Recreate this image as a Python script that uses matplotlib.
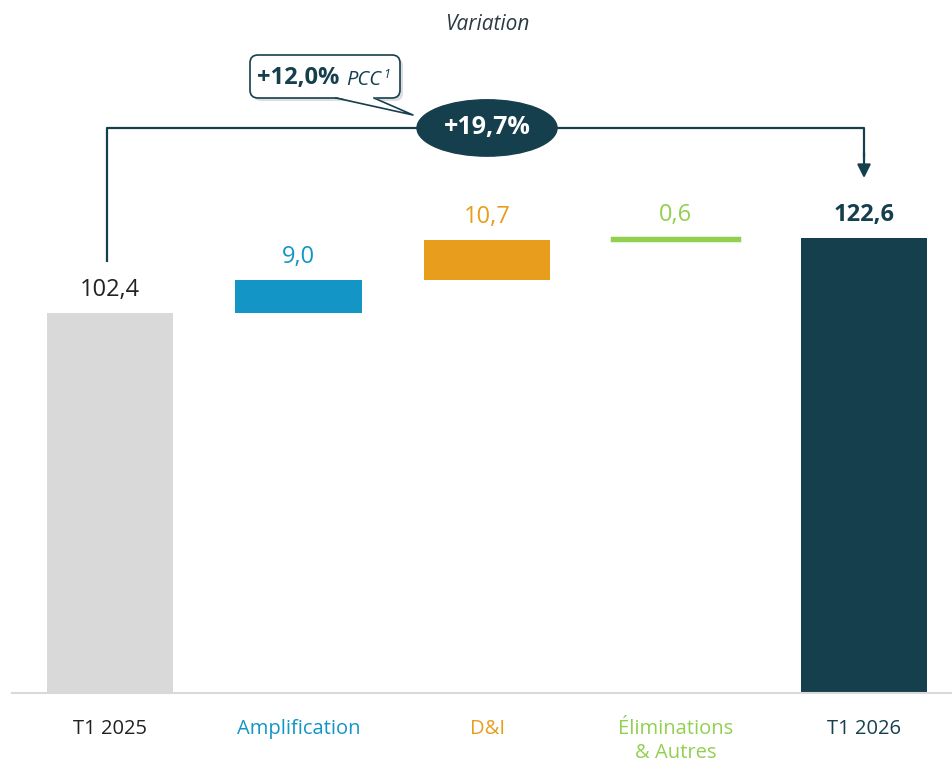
import matplotlib
matplotlib.use('Agg')
import matplotlib.pyplot as plt
from matplotlib.patches import Ellipse, FancyBboxPatch, Polygon
from matplotlib.transforms import Affine2D

plt.rcParams['font.family'] = ['Open Sans', 'DejaVu Sans']

# data
categories = ['T1 2025', 'Amplification', 'D&I', 'Éliminations\n& Autres', 'T1 2026']
start_value = 102.4
changes = [9.0, 10.7, 0.6]
end_value = 122.6
value_labels = ['102,4', '9,0', '10,7', '0,6', '122,6']
total_growth = '+19,7%'
pcc_growth = '+12,0%'

colors = ['#D9D9D9', '#1395C6', '#E89E1C', '#92D050', '#163F4E']
text_colors = ['#222222', '#1395C6', '#E89E1C', '#92D050', '#163F4E']
dark = '#163F4E'

W, H = 953, 763
fig = plt.figure(figsize=(W / 100, H / 100), dpi=100)
ax = fig.add_axes([12 / W, 70 / H, 941 / W, 693 / H])
ax.set_xlim(-0.52, 4.472)
ax.set_ylim(0, 693 / 3.71)

# waterfall bottoms / heights
bottoms = [0]
heights = [start_value]
run = start_value
for c in changes:
    bottoms.append(run)
    heights.append(c)
    run += c
bottoms.append(0)
heights.append(end_value)

xs = list(range(len(categories)))
bars = ax.bar(xs, heights, bottom=bottoms, width=0.67, color=colors, zorder=2)
# the tiny step gets a thicker outline so it stays visible
bars[3].set_edgecolor(colors[3])
bars[3].set_linewidth(2.5)

for i, b in enumerate(bars):
    top = bottoms[i] + heights[i]
    ax.annotate(value_labels[i], (xs[i], top), xytext=(0, 16.5), textcoords='offset points',
                ha='center', va='center', fontsize=17, color=text_colors[i],
                fontweight='bold' if i == 4 else 'normal')

ax.set_xticks(xs)
ax.set_xticklabels(categories, fontsize=14.5)
for lbl, c in zip(ax.get_xticklabels(), text_colors):
    lbl.set_color(c)
    lbl.set_linespacing(1.25)
ax.tick_params(axis='x', length=0, pad=19)
ax.set_yticks([])
for s in ['top', 'left', 'right']:
    ax.spines[s].set_visible(False)
ax.spines['bottom'].set_color('#D9D9D9')
ax.spines['bottom'].set_linewidth(1.5)

# bracket with arrow from first to last bar
y_top = 152.3
ax.plot([xs[0] - 0.015, xs[0] - 0.015, xs[4], xs[4]],
        [start_value + 13.8, y_top, y_top, end_value + 22],
        color=dark, lw=1.6, zorder=3, solid_capstyle='butt')
ax.annotate('', xy=(xs[4], end_value + 16.2), xytext=(xs[4], end_value + 23),
            arrowprops=dict(arrowstyle='-|>', color=dark, lw=1.6, mutation_scale=20,
                            shrinkA=0, shrinkB=0))
ax.add_patch(Ellipse((2, y_top), 0.743, 15.2, color=dark, zorder=4))
ax.text(2, y_top, total_growth, ha='center', va='center', color='white',
        fontsize=18, fontweight='bold', zorder=5)

# callout box in pixel coordinates (y down)
pix = Affine2D().scale(1, -1).translate(0, H)
shadow = FancyBboxPatch((253, 58), 150, 43, boxstyle='round,pad=0,rounding_size=8',
                        transform=pix, fc='#C8C8C8', ec='none', alpha=0.6, zorder=5)
box = FancyBboxPatch((250, 55), 150, 43, boxstyle='round,pad=0,rounding_size=8',
                     transform=pix, fc='white', ec=dark, lw=1.2, zorder=6)
tail = Polygon([(336, 97), (413, 115), (374, 97)], closed=True, transform=pix,
               fc='white', ec='none', zorder=7)
for p in (shadow, box, tail):
    fig.add_artist(p)
fig.add_artist(plt.Line2D([336, 413, 374], [98, 115, 98], transform=pix,
                          color=dark, lw=1.2, zorder=8))

fig.text(257, 78, pcc_growth, transform=pix, ha='left', va='center',
         fontsize=17, fontweight='bold', color=dark, zorder=9)
fig.text(346, 80, 'PCC', transform=pix, ha='left', va='center',
         fontsize=14.5, fontstyle='italic', color=dark, zorder=9)
fig.text(383, 75, '1', transform=pix, ha='left', va='center',
         fontsize=9, fontstyle='italic', color=dark, zorder=9)

fig.text(487, 24, 'Variation', transform=pix, ha='center', va='center',
         fontsize=15, fontstyle='italic', color='#2B3A42')

fig.savefig('out.png', dpi=100)
